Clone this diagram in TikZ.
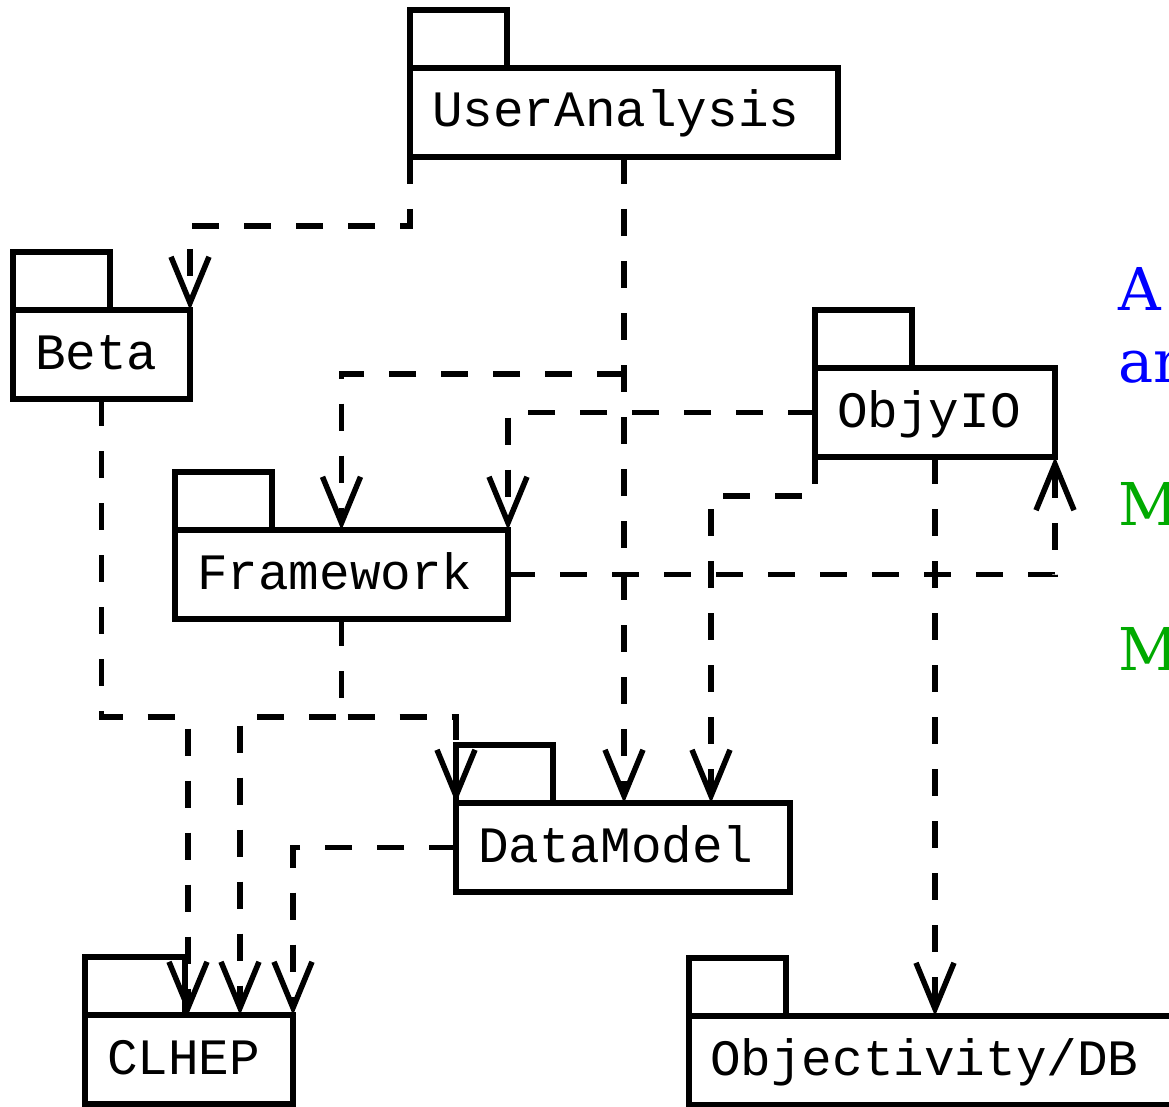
\documentclass[tikz,border=0pt]{standalone}
\usepackage{fontspec}
\newfontfamily\pkgfont{Liberation Mono}
\newfontfamily\notefont{DejaVu Serif}
\usetikzlibrary{arrows.meta,calc}
\definecolor{noteblue}{RGB}{0,0,255}
\definecolor{notegreen}{RGB}{0,170,0}
\begin{document}
\begin{tikzpicture}[x=1pt,y=-1pt,
  pkgbody/.style={draw, line width=5.5pt, line join=miter, rectangle, minimum height=89pt,
    inner xsep=22pt, inner ysep=0pt, outer sep=0pt, align=left, text height=36pt, text depth=7pt,
    font=\pkgfont\fontsize{51}{56}\selectfont, anchor=north west},
  pkgtab/.style={draw, line width=5.5pt, line join=miter, rectangle, minimum width=97pt,
    minimum height=58pt, inner sep=0pt, outer sep=0pt, anchor=south west},
  dep/.style={line width=5.5pt, dash pattern=on 27pt off 25pt,
    -{Straight Barb[length=46pt,width=38pt]}},
  note/.style={anchor=base west, inner sep=0pt, font=\notefont\fontsize{59}{66}\selectfont}]
\useasboundingbox (0,0) rectangle (1169,1107);

% packages
\node[pkgbody, minimum width=428pt, text width=384pt] (ua) at (410,68) {UserAnalysis};
\node[pkgtab] (uat) at (ua.north west) {};
\node[pkgbody, minimum width=177pt, text width=133pt] (beta) at (13,310) {Beta};
\node[pkgtab] (betat) at (beta.north west) {};
\node[pkgbody, minimum width=240pt, text width=196pt] (objy) at (815,368) {ObjyIO};
\node[pkgtab] (objyt) at (objy.north west) {};
\node[pkgbody, minimum width=333pt, text width=289pt] (fw) at (175,530) {Framework};
\node[pkgtab] (fwt) at (fw.north west) {};
\node[pkgbody, minimum width=334pt, text width=290pt] (dm) at (456,803) {DataModel};
\node[pkgtab] (dmt) at (dm.north west) {};
\node[pkgbody, minimum width=208pt, text width=164pt] (clhep) at (85,1015) {CLHEP};
\node[pkgtab, minimum width=100pt] (clhept) at (clhep.north west) {};
\node[pkgbody, minimum width=500pt, text width=458pt, inner xsep=21pt] (odb) at (689,1016) {Objectivity/DB};
\node[pkgtab] (odbt) at (odb.north west) {};

% junction coordinates
\coordinate (j1) at (ua.south |- 0,374);
\coordinate (dmin) at ($(dm.north west)+(255,0)$);
\coordinate (cl1) at ($(clhep.north west)+(103,0)$);
\coordinate (cl2) at ($(clhep.north west)+(155,0)$);

% dependencies
\draw[dep] (ua.south west) -- ++(0,69) -| (beta.north east);
\draw[dep] (ua.south) -- (ua.south |- dm.north);
\draw[dep] (j1) -| (fw.north);
\draw[dep] (objy.west) -| (fw.north east);
\draw[dep] (fw.east) -| (objy.south east);
\draw[dep] (objy.south west) -- ++(0,39) -| (dmin);
\draw[dep] (objy.south) -- (objy.south |- odb.north);
\draw[dep] (beta.south) -- ++(0,318) -| (cl1);
\draw[dep] (fw.south) -- ++(0,98) -| (cl2);
\draw[dep] (fw.south) -- ++(0,98) -| (dm.north west);
\draw[dep] (dm.west) -| (clhep.north east);

% notes on the right
\node[note, text=noteblue] (n1) at (1118,310) {A};
\node[note, text=noteblue] (n2) at (1118,382) {an};
\node[note, text=notegreen] (n3) at (1118,525) {M};
\node[note, text=notegreen] (n4) at (1118,670) {M};
\end{tikzpicture}
\end{document}
